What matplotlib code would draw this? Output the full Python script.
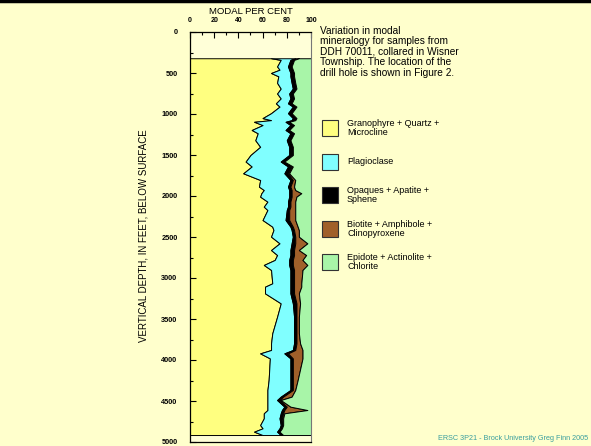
import numpy as np
import matplotlib
matplotlib.use("Agg")
import matplotlib.pyplot as plt
from matplotlib.ticker import MultipleLocator

plt.rcParams['font.family'] = ['Liberation Sans', 'DejaVu Sans']

# sample depths (feet) and modal percentages
depth = [320, 340, 420, 460, 500, 540, 620, 690, 750, 810, 870, 910, 990,
         1050, 1075, 1095, 1135, 1195, 1235, 1320, 1400, 1500, 1580, 1640,
         1723, 1805, 1886, 1927, 1966, 2008, 2069, 2130, 2171, 2293, 2374,
         2415, 2496, 2577, 2659, 2720, 2780, 2841, 2902, 3065, 3106, 3187,
         3309, 3472, 3675, 3797, 3878, 3919, 3980, 4244, 4366, 4447, 4488,
         4569, 4610, 4650, 4711, 4793, 4833, 4874, 4915]
granophyre = [67, 75, 72, 74, 67, 73, 72, 75, 72, 75, 71, 74, 67,
              60, 67, 53, 60, 51, 56, 54, 58, 50, 46, 51,
              44, 58, 57, 61, 59, 58, 64, 61, 64, 60, 68,
              69, 67, 74, 67, 72, 70, 61, 67, 68, 62, 62,
              75, 72, 68, 67, 67, 58, 66, 65, 64, 64, 64,
              64, 64, 61, 61, 58, 60, 53, 60]
plagioclase = [20, 8, 9, 8, 16, 10, 12, 10, 10, 8, 10, 11, 14,
               25, 17, 26, 23, 28, 27, 26, 24, 32, 29, 30,
               34, 25, 24, 21, 23, 24, 17, 20, 16, 19, 15,
               15, 18, 10, 16, 11, 12, 21, 16, 15, 21, 21,
               10, 14, 18, 19, 18, 20, 17, 18, 19, 11, 8,
               14, 12, 14, 13, 17, 14, 19, 15]
opaques = [3, 3, 3, 3, 3, 3, 3, 3, 3, 3, 3, 3, 3,
           3, 3, 3, 3, 3, 3, 3, 3, 3, 3, 3,
           3, 2, 2, 2, 2, 2, 2, 2, 2, 3, 2,
           2, 2, 3, 3, 3, 3, 3, 3, 3, 3, 3,
           3, 2, 2, 2, 2, 3, 2, 2, 2, 2, 2,
           2, 2, 2, 2, 2, 2, 2, 2]
biotite = [0, 0, 0, 0, 0, 0, 0, 0, 0, 0, 0, 0, 0,
           0, 0, 0, 0, 0, 0, 0, 0, 0, 0, 1,
           1, 2, 3, 3, 8, 4, 4, 4, 5, 5, 4,
           4, 3, 10, 4, 10, 8, 12, 7, 6, 6, 4,
           3, 2, 2, 3, 6, 12, 8, 4, 2, 7, 1,
           3, 19, 1, 1, 0, 0, 0, 0]

labels = ["Granophyre + Quartz +\nMicrocline", "Plagioclase",
          "Opaques + Apatite +\nSphene", "Biotite + Amphibole +\nClinopyroxene",
          "Epidote + Actinolite +\nChlorite"]
colors = ["#FFFF80", "#80FFFF", "#000000", "#A0602A", "#A8F5A8"]

d = np.array(depth)
parts = [np.array(granophyre), np.array(plagioclase), np.array(opaques), np.array(biotite)]
epidote = 100 - sum(parts)
parts.append(epidote)

bg = "#FFFFCC"
fig = plt.figure(figsize=(5.91, 4.46), dpi=100, facecolor=bg)
ax = fig.add_axes([190/591, 4/446, 121/591, 410/446])
ax.set_facecolor("#FFFFD8")

left = np.zeros(len(d))
for p, c in zip(parts, colors):
    ax.fill_betweenx(d, left, left + p, facecolor=c, edgecolor="black", linewidth=0.7)
    left = left + p

ax.set_xlim(0, 100)
ax.set_ylim(5000, 0)
ax.xaxis.set_major_locator(MultipleLocator(20))
ax.xaxis.set_minor_locator(MultipleLocator(10))
ax.yaxis.set_major_locator(MultipleLocator(500))
ax.yaxis.set_minor_locator(MultipleLocator(250))
ax.xaxis.tick_top()
ax.tick_params(which="both", direction="in", top=True, bottom=False, left=True, right=False)
ax.tick_params(axis="y", labelsize=5.3, pad=9)
ax.tick_params(axis="x", labelsize=5.0, pad=6)
ax.tick_params(which="major", length=4, width=0.8)
ax.tick_params(which="minor", length=2.5, width=0.8)
for t in ax.get_xticklabels() + ax.get_yticklabels():
    t.set_fontweight("bold")
ax.spines["right"].set_color("#777777")
for s in ["left", "top", "bottom"]:
    ax.spines[s].set_linewidth(0.9)

ax.set_xlabel("MODAL PER CENT", fontsize=6.8, labelpad=2)
ax.xaxis.set_label_position("top")
fig.text(143/591, 1 - 236/446, "VERTICAL DEPTH, IN FEET, BELOW SURFACE", rotation=90,
         ha="center", va="center", fontsize=7)

fig.text(320/591, 1 - 26/446,
         "Variation in modal\nmineralogy for samples from\nDDH 70011, collared in Wisner\n"
         "Township. The location of the\ndrill hole is shown in Figure 2.",
         ha="left", va="top", fontsize=7.3, linespacing=1.05)

box_y = [128, 162, 195, 229, 262]
for y, lab, c in zip(box_y, labels, colors):
    fig.patches.append(plt.Rectangle((322/591, 1 - (y + 8)/446), 16/591, 16/446,
                                     transform=fig.transFigure, facecolor=c,
                                     edgecolor="#333333", linewidth=0.8))
    fig.text(347/591, 1 - y/446, lab, ha="left", va="center", fontsize=6.5, linespacing=1.0)

fig.text(588/591, 1 - 438/446, "ERSC 3P21 - Brock University Greg Finn 2005",
         ha="right", va="center", fontsize=5.2, color="#3A9E9E")

fig.add_artist(plt.Line2D([0, 1], [1 - 1/446, 1 - 1/446], transform=fig.transFigure,
                          color="black", linewidth=2.5))

fig.savefig("out.png", dpi=100, facecolor=bg)
